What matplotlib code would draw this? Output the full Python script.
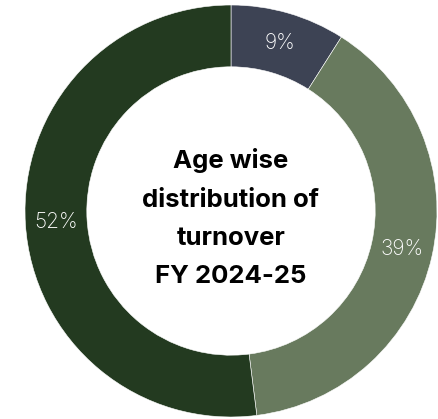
import matplotlib
matplotlib.use("Agg")
from matplotlib import pyplot as plt
import numpy as np

# slice data, clockwise from the top
labels = ["9%", "39%", "52%"]
values = [9, 39, 52]
colors = ["#3d4354", "#687a5e", "#233a20"]

title = "Age wise\ndistribution of\nturnover\nFY 2024-25"

fig = plt.figure(figsize=(4.39, 4.19), dpi=100)
ax = fig.add_axes([25 / 439, 2 / 419, 412 / 439, 412 / 419])

wedges, texts = ax.pie(values, colors=colors, startangle=90, counterclock=False,
                       radius=1, wedgeprops=dict(width=0.3, edgecolor="white", linewidth=0.4))

# percentage labels placed at mid angle of each wedge
for w, lab in zip(wedges, labels):
    ang = np.deg2rad((w.theta1 + w.theta2) / 2)
    ax.text(0.85 * np.cos(ang), 0.85 * np.sin(ang), lab, ha="center", va="center",
            color="white", fontsize=15, family="Inter", fontweight="light")

ax.text(0, -0.035, title, ha="center", va="center", fontsize=18.5, family="Inter",
        fontweight="bold", linespacing=1.85, color="black")

ax.set_xlim(-1, 1)
ax.set_ylim(-1, 1)
ax.set_aspect("equal")
ax.axis("off")

fig.savefig("out.png", dpi=100)
